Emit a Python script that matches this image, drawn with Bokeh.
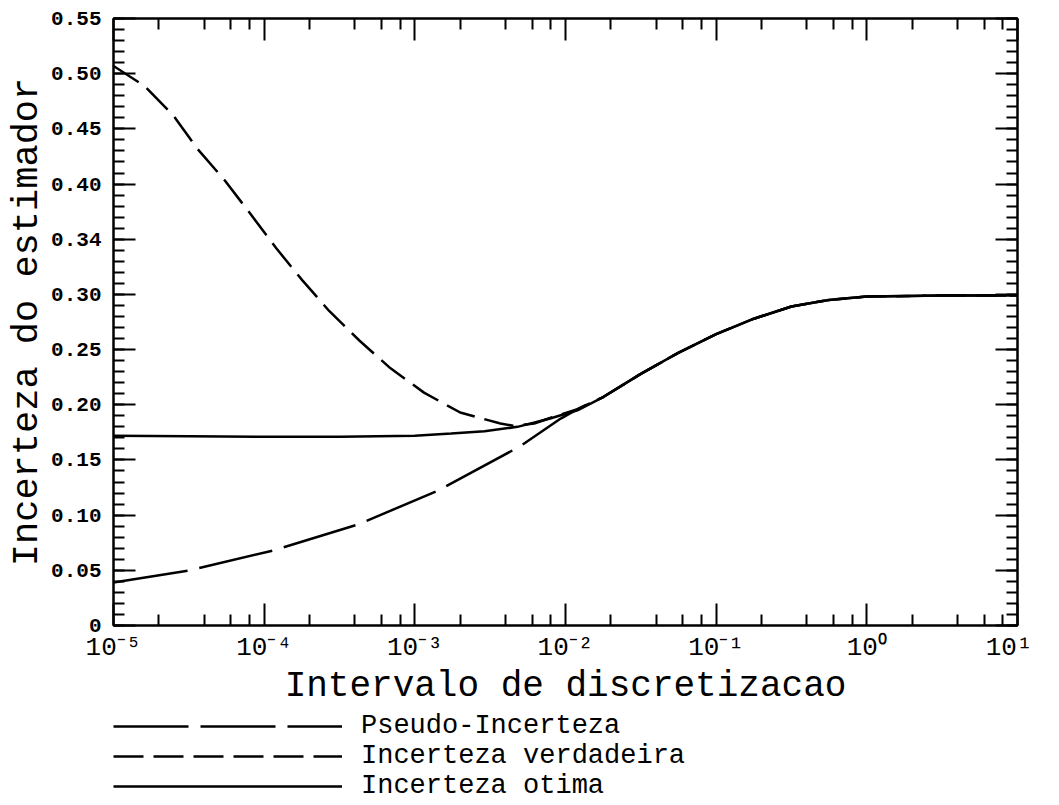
from bokeh.plotting import figure
from bokeh.layouts import column
from bokeh.models import Range1d, FixedTicker, LogAxis, LinearAxis, Legend, LegendItem
from bokeh.embed import file_html
from bokeh.resources import INLINE

# ---------------- data ----------------
pseudo_x = [1.0e-5, 3.2e-5, 1.15e-4, 4.2e-4, 1.41e-3, 4.5e-3, 5.2e-3, 9.3e-3, 1.26e-2,
            1.78e-2, 3.16e-2, 5.6e-2, 1.0e-1, 1.78e-1, 3.16e-1, 5.6e-1, 1.0, 3.16, 10.0]
pseudo_y = [0.039, 0.050, 0.068, 0.0915, 0.122, 0.159, 0.164, 0.1875, 0.1975,
            0.207, 0.228, 0.247, 0.264, 0.278, 0.289, 0.295, 0.298, 0.299, 0.299]

verdadeira_x = [1.0e-5, 1.6e-5, 2.5e-5, 3.6e-5, 5.5e-5, 8.1e-5, 1.2e-4, 1.8e-4, 2.7e-4,
                4.3e-4, 6.9e-4, 1.15e-3, 1.66e-3, 2.0e-3, 3.7e-3, 4.5e-3, 6.2e-3, 7.9e-3,
                1.2e-2, 1.78e-2, 3.16e-2, 5.6e-2, 1.0e-1, 1.78e-1, 3.16e-1, 5.6e-1, 1.0,
                3.16, 10.0]
verdadeira_y = [0.507, 0.489, 0.462, 0.432, 0.403, 0.373, 0.342, 0.3125, 0.285,
                0.258, 0.233, 0.211, 0.199, 0.193, 0.183, 0.181, 0.183, 0.188,
                0.196, 0.207, 0.228, 0.247, 0.264, 0.278, 0.289, 0.295, 0.298,
                0.299, 0.299]

otima_x = [1.0e-5, 3.2e-5, 1.0e-4, 3.2e-4, 1.0e-3, 1.74e-3, 2.9e-3, 4.8e-3, 7.9e-3, 1.2e-2,
           1.78e-2, 3.16e-2, 5.6e-2, 1.0e-1, 1.78e-1, 3.16e-1, 5.6e-1, 1.0, 3.16, 10.0]
otima_y = [0.172, 0.1715, 0.171, 0.171, 0.172, 0.174, 0.176, 0.180, 0.1875, 0.195,
           0.207, 0.228, 0.247, 0.264, 0.278, 0.289, 0.295, 0.298, 0.299, 0.299]

series_labels = ["Pseudo-Incerteza", "Incerteza verdadeira", "Incerteza otima"]

x_ticks = [1e-5, 1e-4, 1e-3, 1e-2, 1e-1, 1e0, 1e1]
x_tick_labels = ["10⁻⁵", "10⁻⁴", "10⁻³", "10⁻²", "10⁻¹", "10⁰", "10¹"]
x_minor_mantissas = [2, 4, 6, 8]

y_ticks = [0.0, 0.05, 0.10, 0.15, 0.20, 0.25, 0.30, 0.35, 0.40, 0.45, 0.50, 0.55]
y_tick_labels = ["0", "0.05", "0.10", "0.15", "0.20", "0.25", "0.30", "0.34",
                 "0.40", "0.45", "0.50", "0.55"]
y_minor = [i / 100 for i in range(0, 56)]

x_title = "Intervalo de discretizacao"
y_title = "Incerteza do estimador"

series_dash = ["75 12", "30 10", "solid"]

# ---------------- main figure ----------------
FONT = "Liberation Mono"

p = figure(x_axis_type="log", x_range=Range1d(1e-5, 10), y_range=Range1d(0, 0.55),
           frame_width=904, frame_height=607, output_backend="svg",
           toolbar_location=None, min_border_left=113, min_border_top=18,
           min_border_right=15, min_border_bottom=0)
p.grid.visible = False
p.outline_line_color = "black"
p.outline_line_width = 2
p.background_fill_color = "white"
p.border_fill_color = "white"

x_minor = [m * d for d in x_ticks[:-1] for m in x_minor_mantissas]
xt = FixedTicker(ticks=x_ticks, minor_ticks=x_minor)
yt = FixedTicker(ticks=y_ticks, minor_ticks=y_minor)


def style(ax, ticker):
    ax.ticker = ticker
    ax.axis_line_color = "black"
    ax.axis_line_width = 2
    ax.major_tick_in = 22
    ax.major_tick_out = 0
    ax.minor_tick_in = 11
    ax.minor_tick_out = 0
    ax.major_tick_line_color = "black"
    ax.minor_tick_line_color = "black"
    ax.major_tick_line_width = 2
    ax.minor_tick_line_width = 2


xa = p.xaxis[0]
style(xa, xt)
xa.major_label_overrides = {t: l for t, l in zip(x_ticks, x_tick_labels)}
xa.major_label_text_font = FONT
xa.major_label_text_font_size = "26px"
xa.major_label_text_color = "black"
xa.major_label_standoff = 7
xa.axis_label = x_title
xa.axis_label_text_font = FONT
xa.axis_label_text_font_size = "36px"
xa.axis_label_text_font_style = "normal"
xa.axis_label_text_color = "black"
xa.axis_label_standoff = 0

ya = p.yaxis[0]
style(ya, yt)
ya.major_label_overrides = {t: l for t, l in zip(y_ticks, y_tick_labels)}
ya.major_label_text_font = FONT
ya.major_label_text_font_size = "21px"
ya.major_label_text_font_style = "bold"
ya.major_label_text_color = "black"
ya.major_label_standoff = 12
ya.axis_label = y_title
ya.axis_label_text_font = FONT
ya.axis_label_text_font_size = "37px"
ya.axis_label_text_font_style = "normal"
ya.axis_label_text_color = "black"
ya.axis_label_standoff = 0

top = LogAxis()
style(top, xt)
top.major_label_text_color = None
top.major_label_text_font_size = "1px"
top.major_label_standoff = 0
p.add_layout(top, "above")

right = LinearAxis()
style(right, yt)
right.major_label_text_color = None
right.major_label_text_font_size = "1px"
right.major_label_standoff = 0
p.add_layout(right, "right")

series = [(pseudo_x, pseudo_y), (verdadeira_x, verdadeira_y), (otima_x, otima_y)]
for (sx, sy), dash in zip(series, series_dash):
    p.line(sx, sy, line_color="black", line_width=2.5, line_dash=dash)

# ---------------- legend strip (same series, off-range, only the key shows) ----------------
q = figure(x_axis_type="log", x_range=Range1d(1e-5, 10), y_range=Range1d(5, 6),
           width=1032, height=94, output_backend="svg", toolbar_location=None,
           x_axis_location=None, y_axis_location=None,
           min_border_left=0, min_border_right=0, min_border_top=0, min_border_bottom=0)
q.grid.visible = False
q.outline_line_color = None
q.background_fill_color = "white"
q.border_fill_color = "white"

items = []
for (sx, sy), dash, lab in zip(series, series_dash, series_labels):
    r = q.line(sx, sy, line_color="black", line_width=2.5, line_dash=dash)
    items.append(LegendItem(label=lab, renderers=[r]))

legend = Legend(items=items, location=(0, 2), orientation="vertical",
                glyph_width=229, glyph_height=20, label_standoff=19, spacing=0,
                padding=0, margin=0, border_line_color=None,
                background_fill_alpha=0, label_text_font=FONT,
                label_text_font_size="27px", label_text_color="black")
q.add_layout(legend)

open("out.html", "w").write(file_html(column(p, q, spacing=0), INLINE))
